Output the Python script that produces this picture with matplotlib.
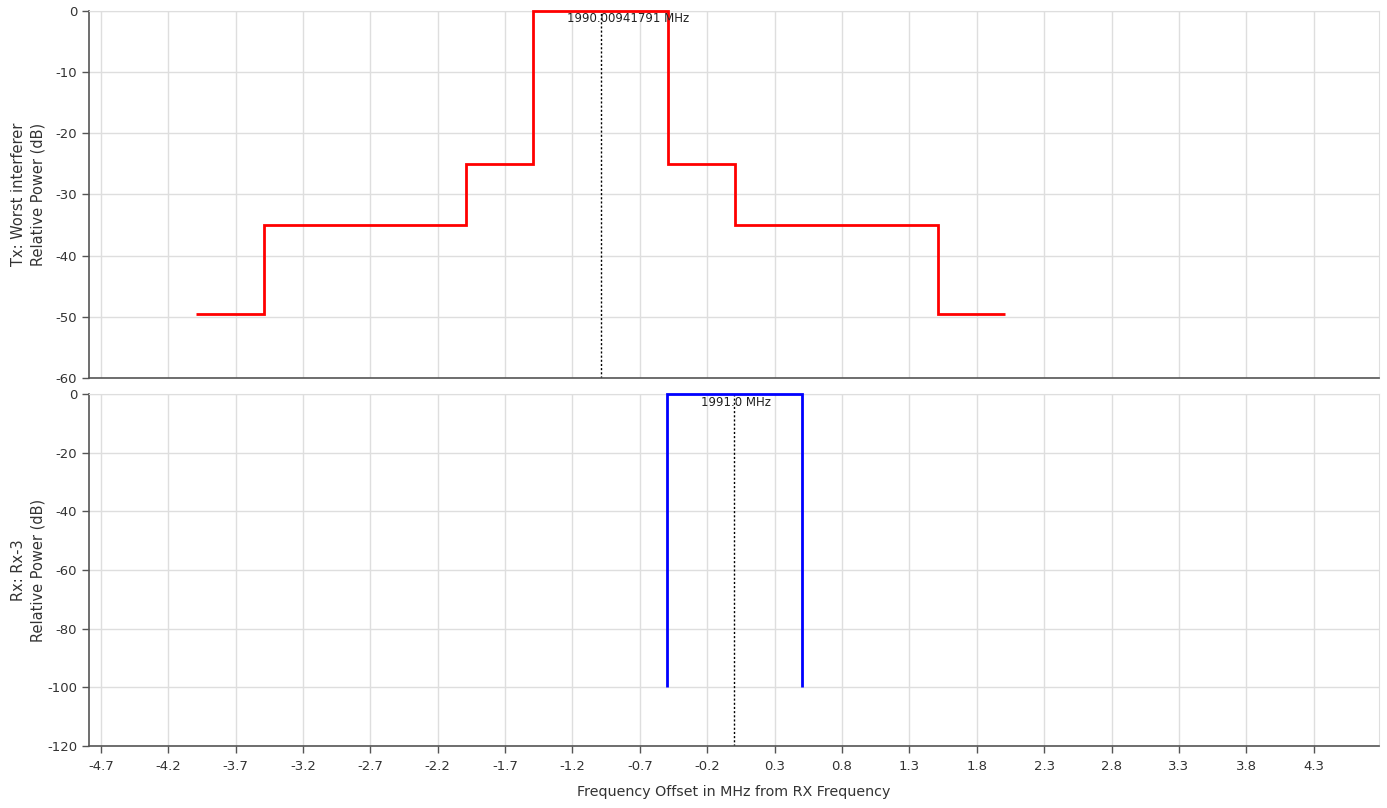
import numpy as np
import matplotlib
matplotlib.use("Agg")
import matplotlib.pyplot as plt

# Frequencies (MHz)
tx_center = 1990.00941791
rx_center = 1991.0

# Tx emission mask, offsets from Tx centre (MHz) and levels (dB)
tx_edges = [-3.0, -2.5, -1.0, -0.5, 0.5, 1.0, 2.5, 3.0]
tx_levels = [-49.5, -35, -25, 0, -25, -35, -49.5]

# Rx selectivity mask, offsets from Rx centre (MHz)
rx_edges = [-0.5, 0.5]
rx_levels = [0]
rx_floor = -100

x_ticks = np.round(np.arange(-4.7, 4.31, 0.5), 1)
top_yticks = [0, -10, -20, -30, -40, -50, -60]
bot_yticks = [0, -20, -40, -60, -80, -100, -120]

plt.rcParams['font.family'] = ['DejaVu Sans']
grid_c = '#dedede'
spine_c = '#555555'
txt_c = '#333333'

fig = plt.figure(figsize=(13.87, 8.08), dpi=100)
ax1 = fig.add_axes([0.0642, 0.5322, 0.9301, 0.4542])
ax2 = fig.add_axes([0.0642, 0.0767, 0.9301, 0.4357])

xlim = (-4.787, 4.785)
tx_off = tx_center - rx_center

# top panel: Tx
ax1.stairs(tx_levels, np.array(tx_edges) + tx_off, baseline=None,
           color='#ff0000', lw=2.0, clip_on=False, zorder=3)
ax1.axvline(tx_off, color='black', ls=(0, (1.5, 1.5)), lw=1.0, zorder=2)
ax1.annotate(f'{tx_center:.8f} MHz', xy=(tx_off, 0), xytext=(27, -8),
             textcoords='offset pixels', ha='center', va='center',
             fontsize=8.5, color='#222222')
ax1.set_ylim(-60, 0)
ax1.set_yticks(top_yticks)
ax1.set_yticklabels([str(v) for v in top_yticks])
ax1.set_ylabel('Tx: Worst interferer\nRelative Power (dB)', fontsize=10.5,
               color=txt_c, linespacing=1.35)

# bottom panel: Rx
ax2.stairs(rx_levels, np.array(rx_edges), baseline=rx_floor,
           color='#0000ff', lw=2.0, clip_on=False, zorder=3)
ax2.axvline(0, color='black', ls=(0, (1.5, 1.5)), lw=1.0, zorder=2)
ax2.annotate(f'{rx_center:.1f} MHz', xy=(0, 0), xytext=(2, -9),
             textcoords='offset pixels', ha='center', va='center',
             fontsize=8.5, color='#222222')
ax2.set_ylim(-120, 0)
ax2.set_yticks(bot_yticks)
ax2.set_yticklabels([str(v) for v in bot_yticks])
ax2.set_ylabel('Rx: Rx-3\nRelative Power (dB)', fontsize=10.5,
               color=txt_c, linespacing=1.35)
ax2.set_xlabel('Frequency Offset in MHz from RX Frequency', fontsize=10.3,
               color=txt_c, labelpad=9)

# both y labels sit in the same column
ax1.yaxis.set_label_coords(-0.034, 0.5)
ax2.yaxis.set_label_coords(-0.034, 0.5)

for ax in (ax1, ax2):
    ax.set_xlim(*xlim)
    ax.set_xticks(x_ticks)
    ax.grid(True, color=grid_c, lw=1.0)
    ax.set_axisbelow(True)
    ax.tick_params(axis='y', direction='out', length=5, width=1,
                   color=spine_c, labelcolor=txt_c, labelsize=9.5)
    ax.tick_params(axis='x', direction='out', length=5, width=1,
                   color=spine_c, labelcolor=txt_c, labelsize=9.5, pad=5)
    ax.spines['left'].set_color(spine_c)
    ax.spines['bottom'].set_color(spine_c)
    ax.spines['top'].set_color(grid_c)
    ax.spines['right'].set_color(grid_c)
    ax.spines['left'].set_linewidth(1.2)
    ax.spines['bottom'].set_linewidth(1.2)

ax1.set_xticklabels([])
ax1.tick_params(axis='x', length=0)
ax2.set_xticklabels([f'{v:.1f}' for v in x_ticks])

fig.savefig('out.png', dpi=100)
